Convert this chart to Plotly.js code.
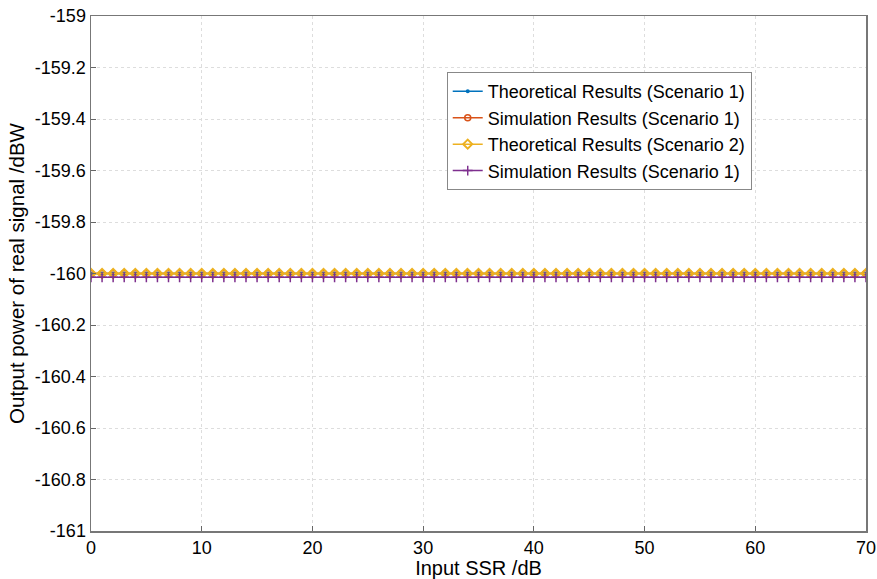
<!DOCTYPE html>
<html>
<head>
<meta charset="utf-8">
<script src="https://cdn.plot.ly/plotly-3.0.1.min.js"></script>
<style>html,body{margin:0;padding:0;background:#fff;}#chart{width:877px;height:579px;}</style>
</head>
<body>
<div id="chart"></div>
<script>
// Input SSR /dB, every 1 dB from 0 to 70
const ssr = [0,1,2,3,4,5,6,7,8,9,10,11,12,13,14,15,16,17,18,19,20,21,22,23,24,25,26,27,28,29,30,31,32,33,34,35,36,37,38,39,40,41,42,43,44,45,46,47,48,49,50,51,52,53,54,55,56,57,58,59,60,61,62,63,64,65,66,67,68,69,70];
// Output power of real signal /dBW (constant across SSR)
const theo1 = ssr.map(() => -160.0);
const sim1 = ssr.map(() => -160.0);
const theo2 = ssr.map(() => -160.0);
const sim1b = ssr.map(() => -160.015);

const seriesNames = ["Theoretical Results (Scenario 1)", "Simulation Results (Scenario 1)", "Theoretical Results (Scenario 2)", "Simulation Results (Scenario 1)"];

const yTickVals = [-159, -159.2, -159.4, -159.6, -159.8, -160, -160.2, -160.4, -160.6, -160.8, -161];
const yTickText = ["-159", "-159.2", "-159.4", "-159.6", "-159.8", "-160", "-160.2", "-160.4", "-160.6", "-160.8", "-161"];
const xTickVals = [0, 10, 20, 30, 40, 50, 60, 70];

const traces = [
  {x: ssr, y: theo1, name: seriesNames[0], mode: "lines+markers",
   line: {color: "#0072BD", width: 1.5}, marker: {symbol: "circle", size: 4, color: "#0072BD"}},
  {x: ssr, y: sim1, name: seriesNames[1], mode: "lines+markers",
   line: {color: "#D95319", width: 1.5}, marker: {symbol: "circle-open", size: 6, color: "#D95319", line: {width: 1.5}}},
  {x: ssr, y: theo2, name: seriesNames[2], mode: "lines+markers",
   line: {color: "#EDB120", width: 1.5}, marker: {symbol: "diamond-open", size: 7, color: "#EDB120", line: {width: 2}}},
  {x: ssr, y: sim1b, name: seriesNames[3], mode: "lines+markers",
   line: {color: "#7E2F8E", width: 1.5}, marker: {symbol: "cross-thin-open", size: 7, color: "#7E2F8E", line: {width: 1.5, color: "#7E2F8E"}}}
];

const layout = {
  width: 877, height: 579,
  margin: {l: 91, r: 11, t: 16, b: 48},
  paper_bgcolor: "#fff", plot_bgcolor: "#fff",
  font: {family: "Arial, Liberation Sans, sans-serif", size: 18, color: "#000"},
  showlegend: true,
  legend: {x: 0.459, y: 0.891, xanchor: "left", yanchor: "top",
           bgcolor: "#fff", bordercolor: "#888", borderwidth: 1,
           font: {size: 18}, tracegroupgap: 0, itemwidth: 30},
  xaxis: {range: [0, 70], tickvals: xTickVals, ticks: "inside", ticklen: 5, tickcolor: "#666",
          showline: true, linecolor: "#777", linewidth: 1.5, mirror: true,
          showgrid: true, gridcolor: "#dddddd", griddash: "dot", gridwidth: 1, zeroline: false,
          title: {text: "Input SSR /dB", font: {size: 20}, standoff: 3}},
  yaxis: {range: [-161, -159], tickvals: yTickVals, ticktext: yTickText, ticks: "inside", ticklen: 5, tickcolor: "#666",
          showline: true, linecolor: "#777", linewidth: 1.5, mirror: true,
          showgrid: true, gridcolor: "#dddddd", griddash: "dot", gridwidth: 1, zeroline: false,
          title: {text: "Output power of real signal /dBW", font: {size: 20.5}, standoff: 4}}
};

Plotly.newPlot("chart", traces, layout, {displayModeBar: false, staticPlot: true});
</script>
</body>
</html>
